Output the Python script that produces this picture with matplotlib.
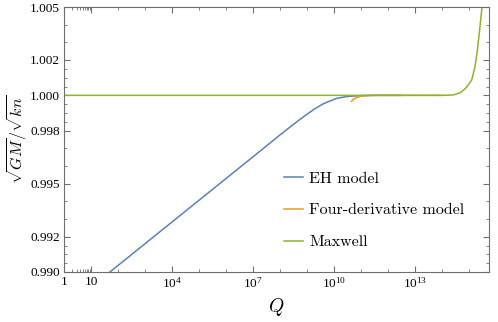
import matplotlib
matplotlib.use("Agg")
import matplotlib.pyplot as plt
import numpy as np
from matplotlib.ticker import FixedLocator, FixedFormatter

plt.rcParams["mathtext.fontset"] = "cm"

# curves: log10(Q) and sqrt(GM)/sqrt(kn)
eh_logq = [1.5, 1.7, 3.0, 4.0, 5.0, 6.0, 7.0, 7.5, 8.0, 8.4, 8.74, 9.0, 9.3, 9.6, 9.85,
           10.1, 10.47, 10.8, 11.2, 11.6, 12.5]
eh_val = [0.98975, 0.9900, 0.99160, 0.99283, 0.99406, 0.99529, 0.99652, 0.99714, 0.99776,
          0.99824, 0.99864, 0.99893, 0.99925, 0.99952, 0.99968, 0.99983, 0.99993, 0.99997,
          0.99999, 1.0, 1.0]

fd_logq = [10.65, 10.72, 10.84, 11.0, 11.3, 11.7, 14.0]
fd_val = [0.99966, 0.99978, 0.99988, 0.99995, 0.99999, 1.0, 1.0]

mx_logq = [0.0, 3.0, 6.0, 9.0, 12.0, 14.0, 14.42, 14.67, 14.8, 14.91, 15.0, 15.10, 15.22,
           15.31, 15.38, 15.47, 15.55]
mx_val = [1.0, 1.0, 1.0, 1.0, 1.0, 1.0, 1.00002, 1.00015, 1.0003, 1.00046, 1.00065, 1.00087,
          1.00162, 1.00257, 1.00351, 1.00483, 1.0065]

labels = ["EH model", "Four-derivative model", "Maxwell"]
colors = ["#5E81B5", "#E19C24", "#8FB032"]

x_major = [1, 10, 1e4, 1e7, 1e10, 1e13]
x_major_labels = ["1", "10", r"$\mathregular{10^{4}}$", r"$\mathregular{10^{7}}$",
                  r"$\mathregular{10^{10}}$", r"$\mathregular{10^{13}}$"]
y_major = [0.990, 0.992, 0.995, 0.998, 1.000, 1.002, 1.005]
y_minor = [0.9905, 0.991, 0.9915, 0.993, 0.994, 0.996, 0.997, 0.9985, 0.999, 0.9995,
           1.0005, 1.001, 1.0015, 1.003, 1.004]

frame_col = "#6e6e6e"

fig = plt.figure(figsize=(4.98, 3.22), dpi=100)
ax = fig.add_axes([64 / 498, 1 - 272 / 322, 425 / 498, 265 / 322])

for lq, v, lab, c in zip([eh_logq, fd_logq, mx_logq], [eh_val, fd_val, mx_val], labels, colors):
    ax.plot(10 ** np.array(lq), v, color=c, lw=1.1, label=lab)

ax.set_xscale("log")
ax.set_xlim(1, 10 ** 15.74)
ax.set_ylim(0.990, 1.005)

minor_x = [k * 1.0 for k in range(2, 10)] + [10.0 ** e for e in range(2, 16) if e % 3 != 1]
ax.xaxis.set_major_locator(FixedLocator(x_major))
ax.xaxis.set_major_formatter(FixedFormatter(x_major_labels))
ax.xaxis.set_minor_locator(FixedLocator(minor_x))
ax.xaxis.set_minor_formatter(FixedFormatter([]))
ax.yaxis.set_major_locator(FixedLocator(y_major))
ax.yaxis.set_major_formatter(FixedFormatter(["%.3f" % v for v in y_major]))
ax.yaxis.set_minor_locator(FixedLocator(y_minor))

ax.tick_params(which="both", direction="in", top=True, right=True, colors=frame_col,
               labelcolor="black", labelsize=9.5, pad=3)
ax.tick_params(which="major", length=4, width=0.8)
ax.tick_params(which="minor", length=2, width=0.6)
for lbl in ax.get_xticklabels() + ax.get_yticklabels():
    lbl.set_fontfamily("Liberation Serif")
for sp in ax.spines.values():
    sp.set_color(frame_col)
    sp.set_linewidth(0.8)

ax.set_xlabel(r"$Q$", fontsize=14, labelpad=4)
ax.set_ylabel(r"$\sqrt{GM}/\sqrt{kn}$", fontsize=11.5)
ax.yaxis.set_label_coords(-0.082, 0.5)

ax.legend(loc="lower left", bbox_to_anchor=(0.5, 0.056), frameon=False,
          prop={"family": "cmr10", "size": 11.5}, handlelength=1.15, handletextpad=0.4,
          labelspacing=1.1, borderpad=0)

fig.savefig("out.png", dpi=100)
